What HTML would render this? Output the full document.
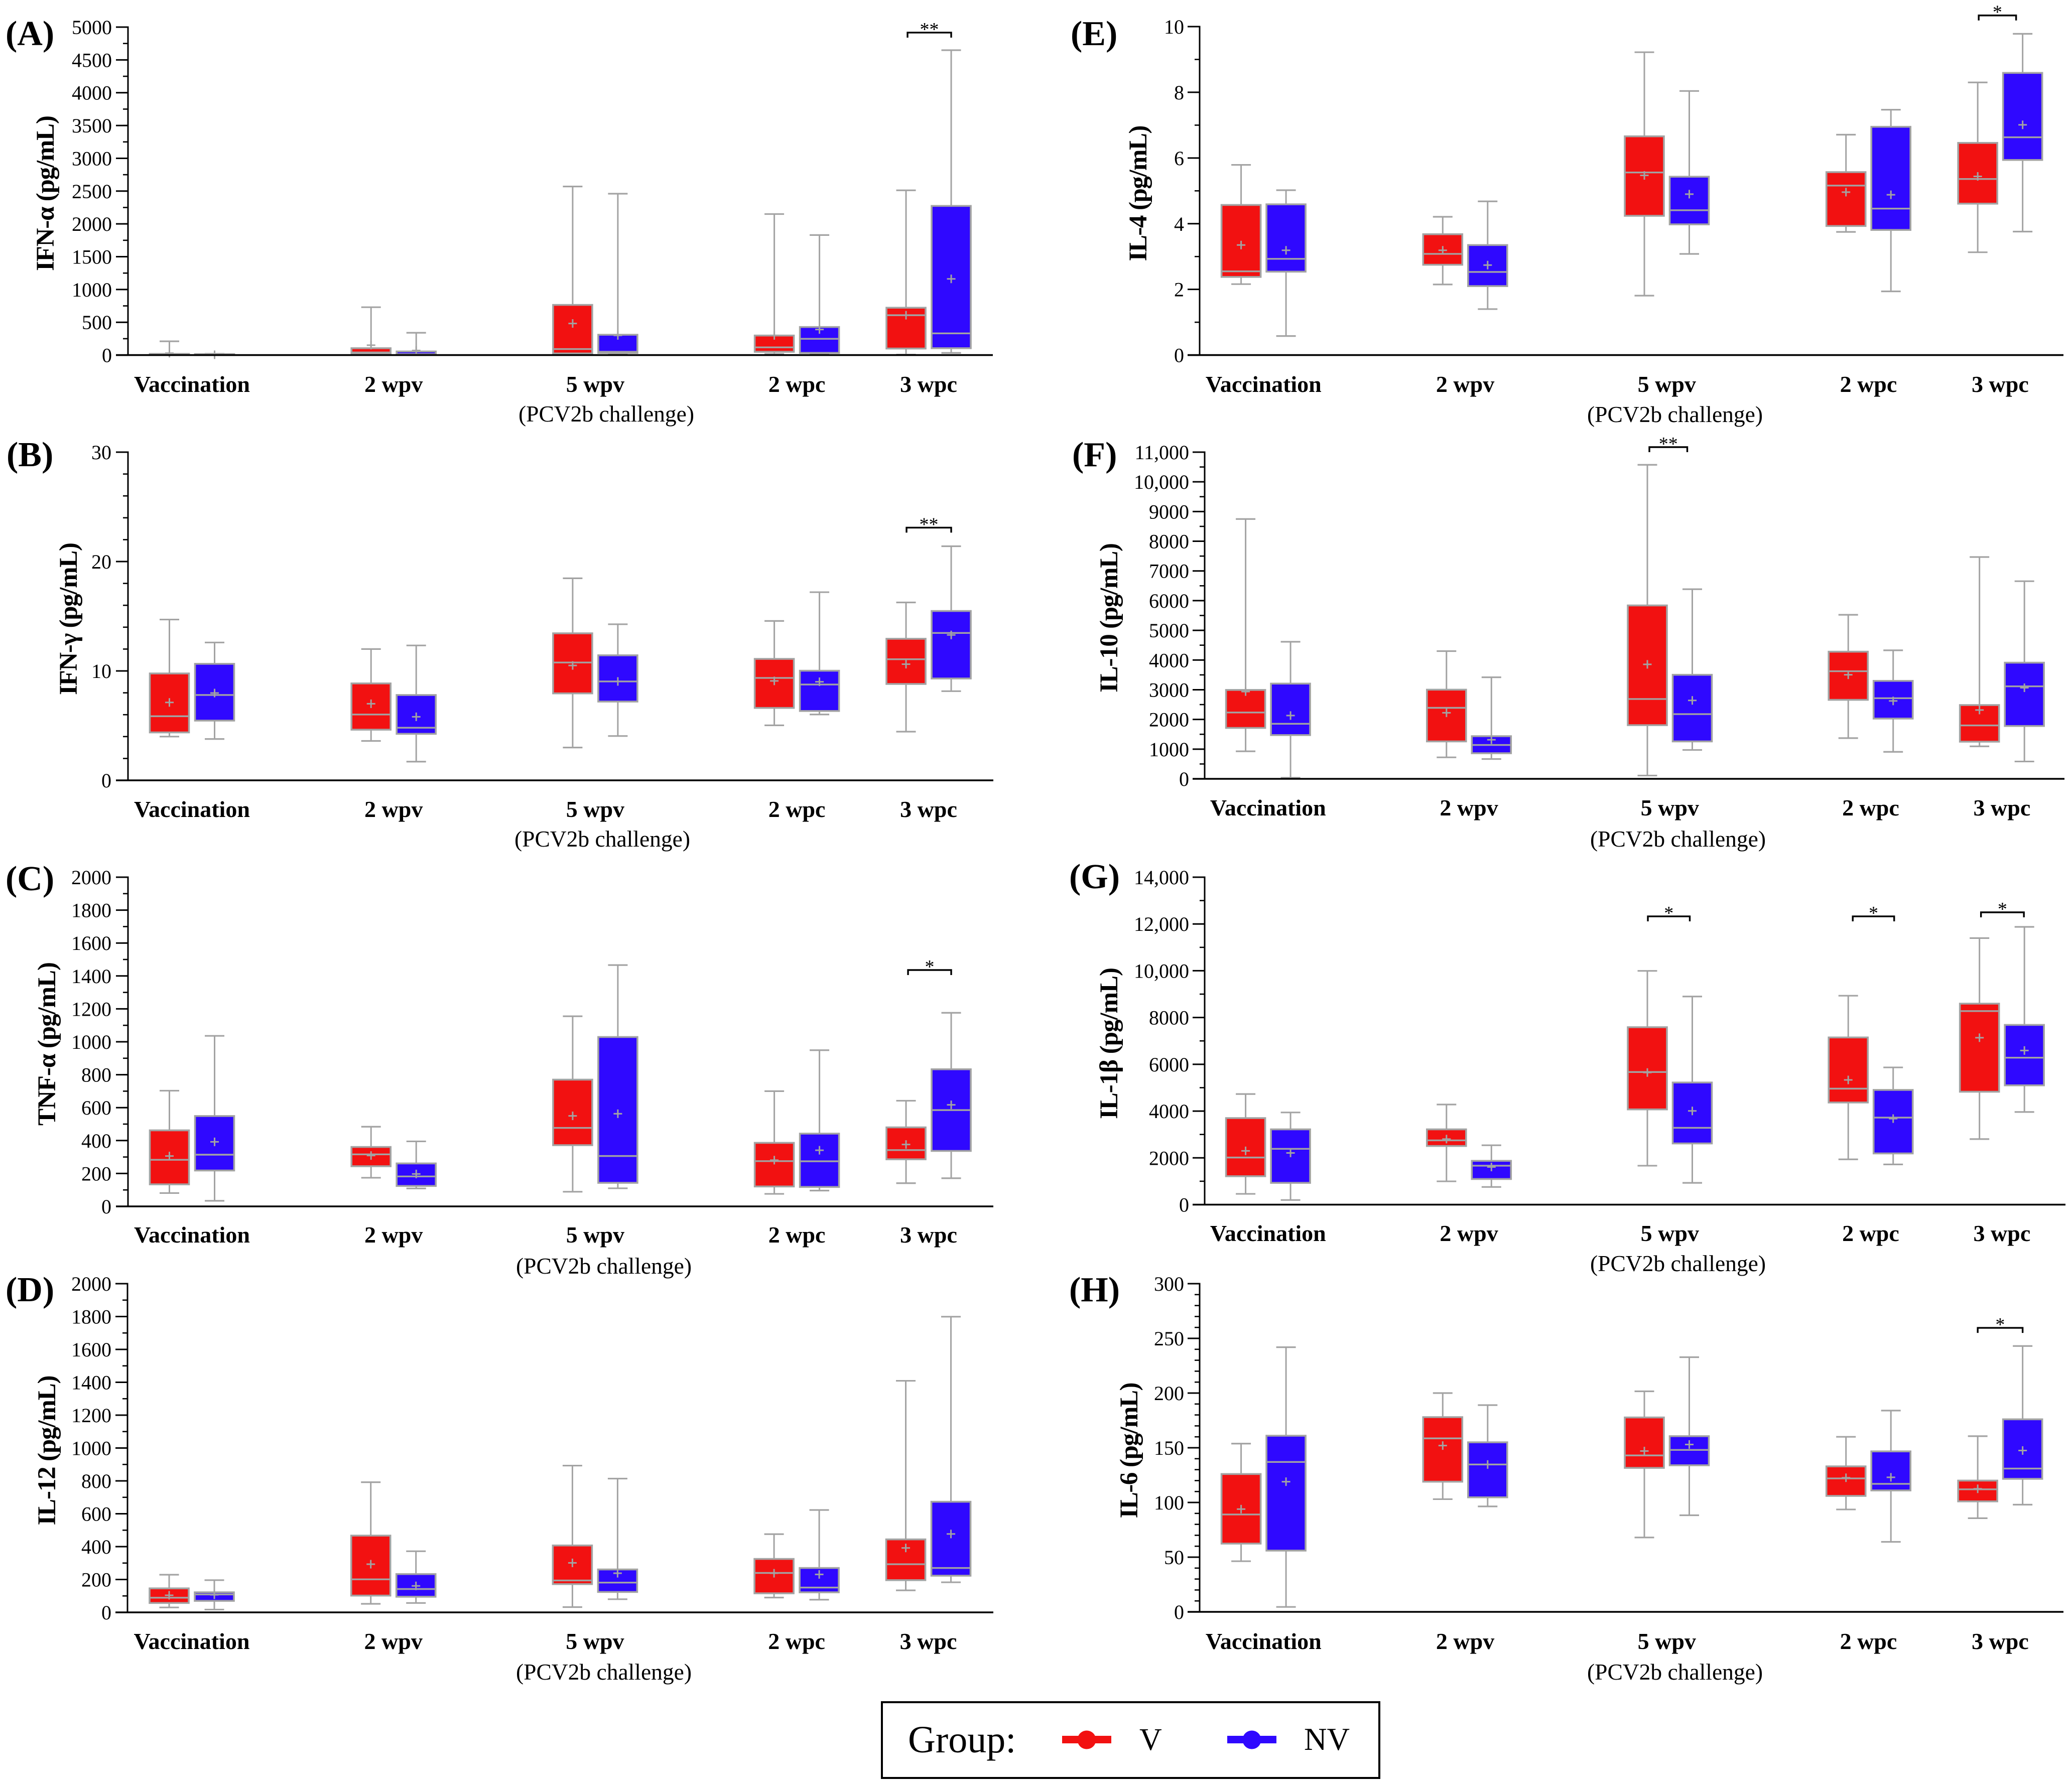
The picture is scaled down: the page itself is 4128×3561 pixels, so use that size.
<!DOCTYPE html>
<html lang="en">
<head>
<meta charset="utf-8">
<title>Cytokine box plots by vaccination group</title>
<style>
html,body{margin:0;padding:0;background:#fff}
svg{display:block}
text{font-family:"Liberation Serif","DejaVu Serif",serif;fill:#000}
</style>
</head>
<body>
<svg id="figure" xmlns="http://www.w3.org/2000/svg" width="4128" height="3561" viewBox="0 0 4128 3561">
  <rect x="0" y="0" width="4128" height="3561" fill="#fff"/>
  <g id="panels"></g>
  <g>
    <rect x="1757" y="3392" width="991" height="151" fill="#fff" stroke="#000" stroke-width="4"/>
    <text x="1809" y="3492" font-size="76">Group:</text>
    <g>
      <rect x="2116" y="3459" width="98" height="15" fill="#f21111"/>
      <circle cx="2165" cy="3467" r="18.5" fill="#f21111"/>
      <text x="2270" y="3487" font-size="62">V</text>
    </g>
    <g>
      <rect x="2445" y="3459" width="98" height="15" fill="#2f08ff"/>
      <circle cx="2494" cy="3467" r="18.5" fill="#2f08ff"/>
      <text x="2598" y="3487" font-size="63">NV</text>
    </g>
  </g>
</svg>
<script>
// Categories shared by every panel
const categories = ['Vaccination', '2 wpv', '5 wpv', '2 wpc', '3 wpc'];
const categorySlots = [0, 3, 6, 9, 10.96];
const challengeNote = '(PCV2b challenge)';

// Each row is one time point: [whisker low, Q1, median, Q3, whisker high, mean]
const ifnAlphaV = [[2,3,6,18,210,29],[2,25,40,105,730,151],[8,25,92,765,2570,482],[17,50,118,298,2150,300],[8,100,608,722,2512,608]];
const ifnAlphaNV = [[1,2,5,15,20,5],[1,12,14,55,340,71],[8,33,50,310,2460,300],[8,33,248,428,1830,390],[33,105,331,2274,4648,1162]];
const ifnGammaV = [[4.0,4.38,5.86,9.77,14.7,7.12],[3.6,4.63,6.02,8.86,12.0,7.0],[3.0,7.95,10.77,13.44,18.47,10.5],[5.03,6.62,9.36,11.1,14.57,9.09],[4.45,8.81,11.07,12.94,16.26,10.62]];
const ifnGammaNV = [[3.78,5.46,7.8,10.65,12.6,7.98],[1.71,4.25,4.81,7.8,12.33,5.81],[4.05,7.2,9.04,11.43,14.27,9.04],[6.02,6.34,8.76,10.02,17.2,9.01],[8.15,9.31,13.47,15.48,21.4,13.29]];
const tnfAlphaV = [[81,134,283,462,703,306],[174,244,316,361,484,309],[89,372,477,770,1155,550],[76,121,275,386,700,281],[141,286,342,480,642,376]];
const tnfAlphaNV = [[34,218,314,549,1036,392],[109,124,182,261,395,197],[110,143,306,1029,1466,563],[96,118,274,442,949,341],[171,337,585,833,1176,617]];
const il12V = [[30,57,89,146,229,104],[52,102,201,467,792,293],[32,172,194,407,893,301],[90,116,240,325,476,238],[134,196,293,444,1409,392]];
const il12NV = [[17,70,109,122,196,107],[57,95,142,233,372,161],[80,124,181,261,814,238],[77,122,151,270,623,231],[183,223,270,673,1799,477]];
const il4V = [[2.16,2.38,2.55,4.57,5.79,3.35],[2.15,2.75,3.08,3.68,4.21,3.19],[1.81,4.24,5.56,6.66,9.22,5.47],[3.75,3.93,5.16,5.57,6.71,4.96],[3.13,4.61,5.36,6.46,8.30,5.44]];
const il4NV = [[0.58,2.54,2.93,4.59,5.02,3.19],[1.40,2.10,2.53,3.35,4.68,2.74],[3.08,3.98,4.41,5.43,8.04,4.90],[1.94,3.81,4.46,6.95,7.47,4.88],[3.76,5.94,6.63,8.59,9.78,7.01]];
const il10V = [[927,1714,2233,2993,8748,2938],[723,1260,2391,3002,4300,2224],[111,1807,2687,5838,10573,3855],[1371,2660,3623,4281,5523,3503],[1094,1251,1798,2484,7469,2317]];
const il10NV = [[37,1473,1853,3206,4615,2131],[667,862,1140,1436,3420,1316],[973,1260,2178,3503,6385,2641],[908,2029,2715,3299,4328,2623],[584,1779,3114,3911,6654,3067]];
const il1bV = [[460,1215,2014,3700,4729,2299],[996,2507,2747,3218,4280,2802],[1664,4072,5670,7586,9994,5648],[1937,4367,4959,7148,8932,5331],[2802,4827,8275,8593,11395,7137]];
const il1bNV = [[197,930,2386,3218,3941,2211],[755,1095,1664,1872,2539,1609],[930,2616,3284,5221,8899,4006],[1719,2189,3722,4904,5867,3678],[3962,5101,6283,7684,11876,6590]];
const il6V = [[46.3,62.4,89,126,153.8,93.9],[103,119,158.6,178,200,152],[68,131.6,143,177.7,201.6,147],[93.6,106,122,133,160,122.6],[85.6,101,112,120,160.6,112.5]];
const il6NV = [[4.5,56,137,161,241.9,119],[96.4,104.7,134.7,155,189,134.7],[88.3,134,148,160.6,232.8,153],[64,111,117,146.7,184,123],[98,121.6,131,176,243,147.5]];

// Y axis tick labels
const ticksA = [0,500,1000,1500,2000,2500,3000,3500,4000,4500,5000];
const ticksB = [0,10,20,30];
const ticksC = [0,200,400,600,800,1000,1200,1400,1600,1800,2000];
const ticksD = [0,200,400,600,800,1000,1200,1400,1600,1800,2000];
const ticksE = [0,2,4,6,8,10];
const ticksF = [0,1000,2000,3000,4000,5000,6000,7000,8000,9000,10000,11000];
const ticksG = [0,2000,4000,6000,8000,10000,12000,14000];
const ticksH = [0,50,100,150,200,250,300];

// Significance annotations: time-point index, value where the bracket sits, stars
const sigA = [{slot:4, value:4916, stars:'**'}];
const sigB = [{slot:4, value:23.1, stars:'**'}];
const sigC = [{slot:4, value:1436, stars:'*'}];
const sigD = [];
const sigE = [{slot:4, value:10.34, stars:'*'}];
const sigF = [{slot:2, value:11169, stars:'**'}];
const sigG = [{slot:2, value:12326, stars:'*'},{slot:3, value:12326, stars:'*'},{slot:4, value:12498, stars:'*'}];
const sigH = [{slot:4, value:259.6, stars:'*'}];

// Layout of each panel (pixel geometry only; no data)
const panels = [
  {id:'a',letter:'(A)',title:'IFN-α (pg/mL)',v:ifnAlphaV,nv:ifnAlphaNV,ticks:ticksA,minor:250,sig:sigA,inset:[[3,0]],axisX:255,top:54,bottom:707.6,right:1978,x0:337.5,unit:133.9,gap:90,labelEnd:223,titleX:107,titleY:385,titleLen:310,letterX:11,letterY:90,catY:781,noteX:1208,noteY:840},
  {id:'b',letter:'(B)',title:'IFN-γ (pg/mL)',v:ifnGammaV,nv:ifnGammaNV,ticks:ticksB,minor:2,sig:sigB,inset:[[1,0]],axisX:255,top:901,bottom:1555,right:1979,x0:337.5,unit:133.9,gap:90,labelEnd:222,titleX:153,titleY:1233,titleLen:304,letterX:13,letterY:929,catY:1628,noteX:1200,noteY:1687},
  {id:'c',letter:'(C)',title:'TNF-α (pg/mL)',v:tnfAlphaV,nv:tnfAlphaNV,ticks:ticksC,minor:100,sig:sigC,inset:[[4,0]],axisX:255,top:1748,bottom:2404,right:1979,x0:337.5,unit:133.9,gap:90,labelEnd:222,titleX:110,titleY:2080,titleLen:326,letterX:11,letterY:1774,catY:2476,noteX:1203,noteY:2538},
  {id:'d',letter:'(D)',title:'IL-12 (pg/mL)',v:il12V,nv:il12NV,ticks:ticksD,minor:100,sig:sigD,inset:[],axisX:254,top:2558,bottom:3213,right:1979,x0:337,unit:133.9,gap:90,labelEnd:222,titleX:110,titleY:2890,titleLen:299,letterX:11,letterY:2593,catY:3286,noteX:1203,noteY:3347},
  {id:'e',letter:'(E)',title:'IL-4 (pg/mL)',v:il4V,nv:il4NV,ticks:ticksE,minor:1,sig:sigE,inset:[[2,13]],axisX:2390,top:53,bottom:707.6,right:4111,x0:2472.6,unit:133.9,gap:89.5,labelEnd:2359,titleX:2284,titleY:385,titleLen:271,letterX:2133,letterY:90,catY:781,noteX:3337,noteY:841},
  {id:'f',letter:'(F)',title:'IL-10 (pg/mL)',v:il10V,nv:il10NV,ticks:ticksF,minor:500,sig:sigF,inset:[[4,10]],axisX:2400,top:901,bottom:1552,right:4113,x0:2481.6,unit:133.4,gap:89.5,labelEnd:2369,titleX:2226,titleY:1231,titleLen:298,letterX:2136,letterY:929,catY:1625,noteX:3343,noteY:1687},
  {id:'g',letter:'(G)',title:'IL-1β (pg/mL)',v:il1bV,nv:il1bNV,ticks:ticksG,minor:1000,sig:sigG,inset:[[1,5],[9,-2],[3,1]],axisX:2400,top:1748,bottom:2400.5,right:4115,x0:2481.6,unit:133.4,gap:89.5,labelEnd:2369,titleX:2226,titleY:2079,titleLen:302,letterX:2130,letterY:1770,catY:2473,noteX:3343,noteY:2533},
  {id:'h',letter:'(H)',title:'IL-6 (pg/mL)',v:il6V,nv:il6NV,ticks:ticksH,minor:10,sig:sigH,inset:[[0,0]],axisX:2390,top:2558,bottom:3212,right:4111,x0:2472.6,unit:133.9,gap:89.5,labelEnd:2359,titleX:2266,titleY:2890,titleLen:271,letterX:2130,letterY:2593,catY:3286,noteX:3337,noteY:3347}
];

const SVG_NS = 'http://www.w3.org/2000/svg';
const GREY = '#a3a3a3';
const BOX_HALF = 39;
const CAP_HALF = 19.5;
const PLUS_HALF = 8.5;

function mk(parent, tag, attrs, text) {
  const el = document.createElementNS(SVG_NS, tag);
  for (const k in attrs) el.setAttribute(k, attrs[k]);
  if (text !== undefined) el.textContent = text;
  parent.appendChild(el);
  return el;
}
function fmt(v) {
  return v >= 10000 ? String(v).replace(/(\d)(\d{3})$/, '$1,$2') : String(v);
}

function drawBox(g, stats, cx, color, yScale, seriesName, cat) {
  const lo = yScale(stats[0]), q1 = yScale(stats[1]), med = yScale(stats[2]);
  const q3 = yScale(stats[3]), hi = yScale(stats[4]), mean = yScale(stats[5]);
  const box = mk(g, 'g', {});
  
  
  const whisker = mk(box, 'line', {x1:cx, x2:cx, y1:lo, y2:hi, stroke:GREY, 'stroke-width':3});
  
  
  const capLow = mk(box, 'line', {x1:cx-CAP_HALF, x2:cx+CAP_HALF, y1:lo, y2:lo, stroke:GREY, 'stroke-width':3.2});
  
  
  const capHigh = mk(box, 'line', {x1:cx-CAP_HALF, x2:cx+CAP_HALF, y1:hi, y2:hi, stroke:GREY, 'stroke-width':3.2});
  
  
  const rect = mk(box, 'rect', {x:cx-BOX_HALF, y:q3, width:BOX_HALF*2, height:Math.max(q1-q3,0.5), fill:color, stroke:GREY, 'stroke-width':3.6});
  
  
  const median = mk(box, 'line', {x1:cx-BOX_HALF, x2:cx+BOX_HALF, y1:med, y2:med, stroke:GREY, 'stroke-width':3.4});
  
  
  const meanH = mk(box, 'line', {x1:cx-PLUS_HALF, x2:cx+PLUS_HALF, y1:mean, y2:mean, stroke:GREY, 'stroke-width':3});
  
  
  const meanV = mk(box, 'line', {x1:cx, x2:cx, y1:mean-PLUS_HALF, y2:mean+PLUS_HALF, stroke:GREY, 'stroke-width':3});
  
  
}

function drawPanel(root, p) {
  const g = mk(root, 'g', {});
  
  

  const yMax = p.ticks[p.ticks.length - 1];
  const yScale = function (v) { return p.bottom - (v / yMax) * (p.bottom - p.top); };
  const xScale = function (slot) { return p.x0 + categorySlots[slot] * p.unit; };

  const letter = mk(g, 'text', {x:p.letterX, y:p.letterY, 'font-size':70, 'font-weight':'bold'}, p.letter);
  
  

  const title = mk(g, 'text', {x:p.titleX, y:p.titleY, 'font-size':51, 'font-weight':'bold', 'text-anchor':'middle', textLength:p.titleLen, lengthAdjust:'spacing', transform:'rotate(-90 ' + p.titleX + ' ' + p.titleY + ')'}, p.title);
  
  

  for (let v = 0; v <= yMax + 1e-9; v += p.minor) {
    const y = yScale(v);
    const minorTick = mk(g, 'line', {x1:p.axisX-10, x2:p.axisX, y1:y, y2:y, stroke:'#000', 'stroke-width':2.6});
    
    
  }
  p.ticks.forEach(function (v) {
    const y = yScale(v);
    const tick = mk(g, 'line', {x1:p.axisX-24, x2:p.axisX, y1:y, y2:y, stroke:'#000', 'stroke-width':3});
    
    
    const label = mk(g, 'text', {x:p.labelEnd, y:y+14, 'font-size':40, 'text-anchor':'end'}, fmt(v));
    
    
  });

  categories.forEach(function (name, i) {
    const cx = xScale(i);
    drawBox(g, p.v[i], cx, '#f21111', yScale, 'v', i);
    drawBox(g, p.nv[i], cx + p.gap, '#2f08ff', yScale, 'nv', i);
    const label = mk(g, 'text', {x:cx + p.gap/2, y:p.catY, 'font-size':46, 'font-weight':'bold', 'text-anchor':'middle'}, name);
    
    
  });

  const yAxis = mk(g, 'line', {x1:p.axisX, x2:p.axisX, y1:p.top-1.5, y2:p.bottom, stroke:'#000', 'stroke-width':3});
  
  
  const xAxis = mk(g, 'line', {x1:p.axisX-24, x2:p.right, y1:p.bottom, y2:p.bottom, stroke:'#000', 'stroke-width':3.6});
  
  

  const note = mk(g, 'text', {x:p.noteX, y:p.noteY, 'font-size':45.5, 'text-anchor':'middle'}, challengeNote);
  
  

  p.sig.forEach(function (s, i) {
    const inset = p.inset[i] || [0, 0];
    const xa = xScale(s.slot) + inset[0];
    const xb = xScale(s.slot) + p.gap - inset[1];
    const y = yScale(s.value);
    const bracket = mk(g, 'path', {d:'M' + xa + ' ' + (y+10) + 'V' + y + 'H' + xb + 'V' + (y+10), fill:'none', stroke:'#000', 'stroke-width':3.4});
    
    
    const stars = mk(g, 'text', {x:(xa+xb)/2, y:y+6, 'font-size':38, 'text-anchor':'middle'}, s.stars);
    
    
  });
}

const root = document.getElementById('panels');
panels.forEach(function (p) { drawPanel(root, p); });
</script>
</body>
</html>
